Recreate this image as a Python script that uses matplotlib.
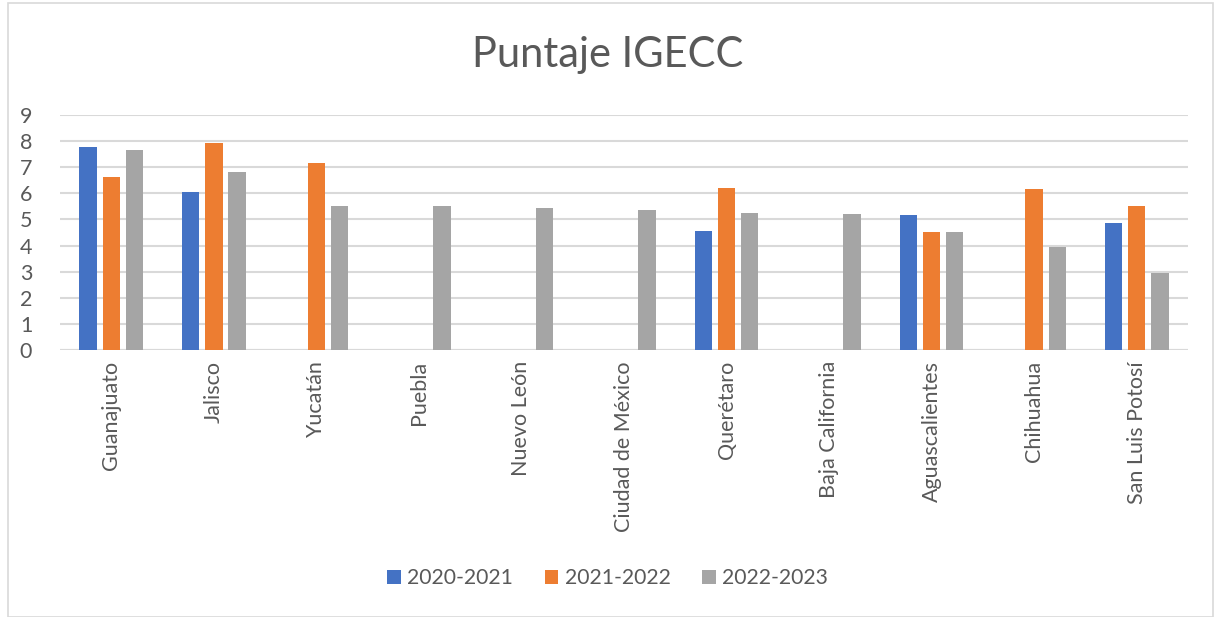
import matplotlib.pyplot as plt
import numpy as np
from matplotlib.patches import Rectangle

states = ["Guanajuato", "Jalisco", "Yucatán", "Puebla", "Nuevo León", "Ciudad de México",
          "Querétaro", "Baja California", "Aguascalientes", "Chihuahua", "San Luis Potosí"]
s2020 = [7.78, 6.07, 0, 0, 0, 0, 4.57, 0, 5.17, 0, 4.88]
s2021 = [6.62, 7.93, 7.18, 0, 0, 0, 6.22, 0, 4.51, 6.15, 5.53]
s2022 = [7.67, 6.82, 5.53, 5.51, 5.44, 5.36, 5.26, 5.19, 4.53, 3.96, 2.96]
series = ["2020-2021", "2021-2022", "2022-2023"]
colors = ["#4472C4", "#ED7D31", "#A5A5A5"]

plt.rcParams['font.family'] = ['Lato', 'DejaVu Sans']
txt = "#595959"

fig = plt.figure(figsize=(12.15, 6.17), dpi=100)
fig.patches.append(Rectangle((8 / 1215, 0), 1 - 10 / 1215, 1 - 3 / 617, transform=fig.transFigure,
                             fill=False, edgecolor="#d9d9d9", linewidth=1.2))
ax = fig.add_axes([60 / 1215, 1 - 350 / 617, 1128 / 1215, 235 / 617])

x = np.arange(len(states))
w = 0.17
for i, (vals, lab, c) in enumerate(zip([s2020, s2021, s2022], series, colors)):
    ax.bar(x + (i - 1) * 0.225, vals, w, color=c, label=lab, zorder=3)

ax.set_xlim(-0.5, len(states) - 0.5)
ax.set_ylim(0, 9)
ax.set_yticks(range(10))
ax.yaxis.grid(True, color="#d9d9d9", linewidth=1.5, zorder=0)
for s in ax.spines.values():
    s.set_visible(False)
ax.axhline(0, color="#d9d9d9", linewidth=1.5, zorder=1)
ax.tick_params(axis='both', length=0, colors=txt, labelsize=15.5)
ax.set_xticks(x)
ax.set_xticklabels(states, rotation=90)
ax.tick_params(axis='x', pad=8)
ax.tick_params(axis='y', pad=20)

fig.text(0.5, 1 - 55 / 617, "Puntaje IGECC", ha='center', va='center', fontsize=30, color=txt)
fig.legend(loc='center', bbox_to_anchor=(0.5, 1 - 578 / 617), ncol=3, frameon=False,
           fontsize=15.2, labelcolor=txt, handlelength=0.65, handleheight=0.65,
           columnspacing=1.5, handletextpad=0.3)

fig.savefig("out.png", dpi=100)
